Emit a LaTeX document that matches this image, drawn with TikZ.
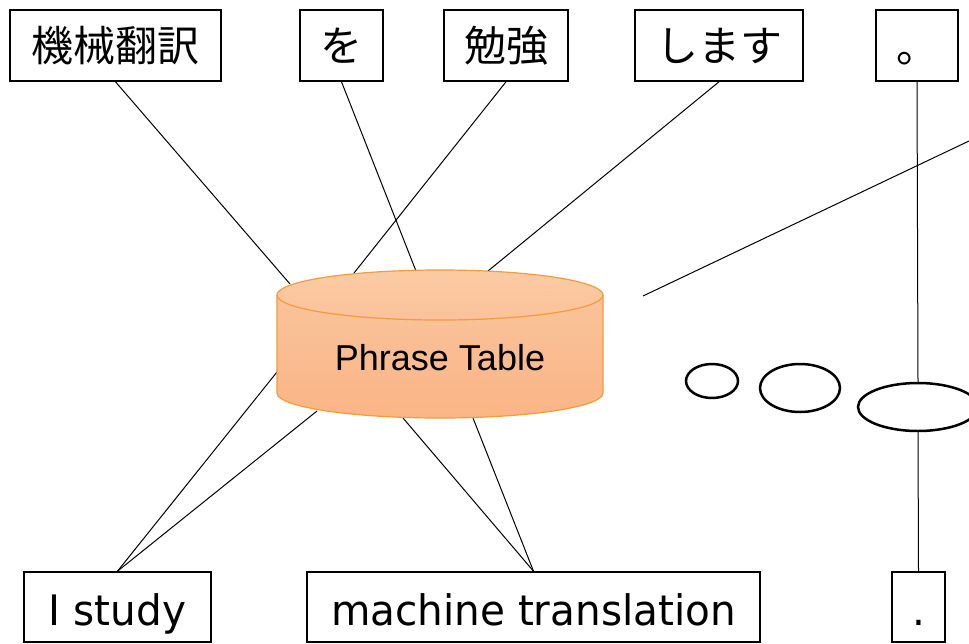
\documentclass[tikz,border=0pt]{standalone}
\usepackage{fontspec}
\setmainfont{Liberation Sans}
\newfontfamily\jpfont{Noto Sans CJK JP}
\newfontfamily\enfont[FakeStretch=0.965]{DejaVu Sans}
\usetikzlibrary{shapes.geometric}
\definecolor{cylline}{HTML}{F59B3A}
\definecolor{captop}{HTML}{FBCBA4}
\definecolor{capbot}{HTML}{FAC29A}
\definecolor{bodytop}{HTML}{FAC39B}
\definecolor{bodybot}{HTML}{FAB585}
\begin{document}
\begin{tikzpicture}[x=1pt,y=-1pt,
  wordbox/.style={draw, line width=1.6pt, inner sep=0pt, minimum height=71pt, font=\jpfont\fontsize{42}{50}\selectfont},
  enbox/.style={draw, line width=1.6pt, inner sep=0pt, minimum height=70pt, text height=36pt, text depth=0pt, font=\enfont\fontsize{42}{50}\selectfont},
  conn/.style={line width=1pt},
  oval/.style={draw, ellipse, line width=2.5pt, inner sep=0pt}]
\useasboundingbox (0,0) rectangle (969,643);

% top boxes
\node[wordbox, minimum width=211pt] (t1) at (115.5,45.5) {機械翻訳};
\node[wordbox, minimum width=83pt]  (t2) at (341.5,45.5) {を};
\node[wordbox, minimum width=124pt] (t3) at (506,45.5) {勉強};
\node[wordbox, minimum width=168pt] (t4) at (719,45.5) {します};
\node[wordbox, minimum width=82pt]  (t5) at (917,45.5) {\raisebox{-17pt}[0pt][0pt]{。}};

% bottom boxes
\node[enbox, minimum width=187pt] (b1) at (117.5,607) {I study};
\node[enbox, minimum width=453pt] (b2) at (533.5,607) {machine translation};
\node[enbox, minimum width=53pt]  (b3) at (918.5,607) {.};

% ellipses
\node[oval, minimum width=52pt, minimum height=34pt] (e1) at (712,381) {};
\node[oval, minimum width=80pt, minimum height=48pt] (e2) at (800,388) {};
\node[oval, minimum width=120pt, minimum height=48pt] (e3) at (918,407) {};

% points on the cylinder edge
\coordinate (c1) at (290,284);
\coordinate (c2) at (416,271);
\coordinate (c3) at (354,273);
\coordinate (c4) at (488,271);
\coordinate (c5) at (277,372);
\coordinate (c6) at (317,411);
\coordinate (c7) at (403,418);
\coordinate (c8) at (473,418);
\coordinate (d1) at (643,296);
\coordinate (d2) at (969,141);

% connectors
\draw[conn] (t1.south) -- (c1);
\draw[conn] (t2.south) -- (c2);
\draw[conn] (t3.south) -- (c3);
\draw[conn] (t4.south) -- (c4);
\draw[conn] (b1.north) -- (c5);
\draw[conn] (b1.north) -- (c6);
\draw[conn] (b2.north) -- (c7);
\draw[conn] (b2.north) -- (c8);
\draw[conn] (t5.south) -- (e3.north);
\draw[conn] (e3.south) -- (b3.north);
\draw[conn] (d1) -- (d2);

% cylinder
\shade[top color=bodytop, bottom color=bodybot]
  (277,295) -- (277,393) arc[start angle=180, end angle=0, x radius=163, y radius=25]
  -- (603,295) -- cycle;
\shade[top color=captop, bottom color=capbot]
  (440,295) ellipse[x radius=163, y radius=25];
\draw[cylline, line width=1.2pt]
  (277,295) -- (277,393) arc[start angle=180, end angle=0, x radius=163, y radius=25]
  -- (603,295);
\draw[cylline, line width=1.2pt] (440,295) ellipse[x radius=163, y radius=25];
\node[font=\fontsize{36}{40}\selectfont, inner sep=0pt] (pt) at (440,358) {Phrase Table};
\end{tikzpicture}
\end{document}
